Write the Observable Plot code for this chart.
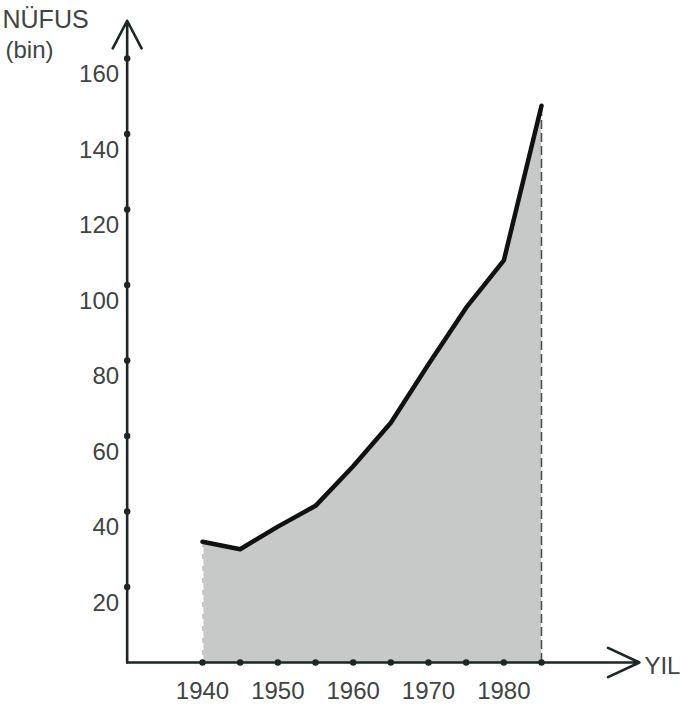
<!DOCTYPE html>
<html>
<head>
<meta charset="utf-8">
<script src="https://cdn.jsdelivr.net/npm/d3@7"></script>
<script src="https://cdn.jsdelivr.net/npm/@observablehq/plot@0.6"></script>
<style>
  html, body { margin: 0; padding: 0; background: #ffffff; }
</style>
</head>
<body>
<div id="chart"></div>
<script>
// Data
const years      = [1940, 1945, 1950, 1955, 1960, 1965, 1970, 1975, 1980, 1985];
const population = [32, 30, 36, 41.5, 52, 63.5, 79, 94, 106.5, 147.5]; // thousand
const xTickYears = [1940, 1945, 1950, 1955, 1960, 1965, 1970, 1975, 1980, 1985];
const xLabels    = [1940, 1950, 1960, 1970, 1980];
const yTicks     = [20, 40, 60, 80, 100, 120, 140, 160];
const yLabel1 = "NÜFUS";
const yLabel2 = "(bin)";
const xLabel  = "YIL";
const axisOriginYear = 1930;
const axisEndYear = 1998;
const axisTopValue = 170;

const data = years.map((y, i) => ({year: y, pop: population[i]}));
const first = data[0], last = data[data.length - 1];

const numFont = "'Liberation Sans Narrow', 'Liberation Sans', sans-serif";
const txtFont = "'Liberation Sans', sans-serif";
const ink = "#1c2624";
const textInk = "#404443";

const chart = Plot.plot({
  width: 680,
  height: 707,
  margin: 0,
  x: {domain: [1940, 1985], range: [202, 541], axis: null},
  y: {domain: [0, 160], range: [662, 58], axis: null},
  style: {background: "#ffffff"},
  marks: [
    Plot.areaY(data, {x: "year", y: "pop", fill: "#c6c9c7"}),
    // white dashed left edge, dark dashed right edge of the area
    Plot.ruleX([first], {x: "year", y1: 0, y2: "pop", stroke: "#ffffff", strokeWidth: 2, strokeDasharray: "7,5"}),
    Plot.ruleX([last], {x: "year", y1: 0, y2: "pop", stroke: "#4a4f4d", strokeWidth: 1.6, strokeDasharray: "9,4"}),
    Plot.line(data, {x: "year", y: "pop", stroke: "#111", strokeWidth: 4.5, strokeLinejoin: "round", strokeLinecap: "round"}),
    // axes with arrows
    Plot.arrow([{x1: axisOriginYear, y1: 0, x2: axisOriginYear, y2: axisTopValue}], {
      x1: "x1", y1: "y1", x2: "x2", y2: "y2", stroke: ink, strokeWidth: 2.6, headLength: 18, headAngle: 55
    }),
    Plot.arrow([{x1: axisOriginYear, y1: 0, x2: axisEndYear, y2: 0}], {
      x1: "x1", y1: "y1", x2: "x2", y2: "y2", stroke: ink, strokeWidth: 2.6, headLength: 20, headAngle: 50
    }),
    // tick dots
    Plot.dot(xTickYears, {x: d => d, y: 0, r: 3.2, fill: ink, stroke: null}),
    Plot.dot(yTicks, {x: axisOriginYear, y: d => d, r: 3.2, fill: ink, stroke: null}),
    // tick labels
    Plot.text(yTicks, {x: axisOriginYear, y: d => d, text: d => String(d), textAnchor: "end", dx: -8, dy: 16,
      fontSize: 24, fontFamily: numFont, fill: textInk}),
    Plot.text(xLabels, {x: d => d, y: 0, text: d => String(d), textAnchor: "middle", dy: 29,
      fontSize: 24, fontFamily: numFont, fill: textInk}),
    // axis titles
    Plot.text([yLabel1], {frameAnchor: "top-left", text: d => d, dx: 2, dy: 10, textAnchor: "start",
      fontSize: 25, fontFamily: txtFont, fill: textInk}),
    Plot.text([yLabel2], {frameAnchor: "top-left", text: d => d, dx: 5, dy: 40, textAnchor: "start",
      fontSize: 24, fontFamily: txtFont, fill: textInk}),
    Plot.text([xLabel], {x: axisEndYear, y: 0, text: d => d, textAnchor: "start", dx: 5, dy: 4,
      fontSize: 24, fontFamily: txtFont, fill: textInk})
  ]
});
document.getElementById("chart").appendChild(chart);
</script>
</body>
</html>
